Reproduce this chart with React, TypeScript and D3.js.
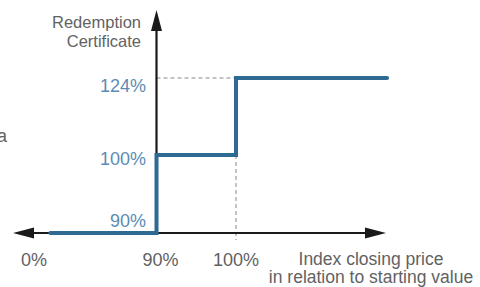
import React from 'react';
import * as d3 from 'd3';

// payoff profile: index closing price (% of start) -> redemption (%)
const payoffX = [12, 90, 90, 100, 100, 119];
const payoffY = [90, 90, 100, 100, 124, 124];

const xTicks = ['0%', '90%', '100%'];
const xTickValues = [0, 90, 100];
const yTicks = ['124%', '100%', '90%'];
const yTickValues = [124, 100, 90];

const yTitle = ['Redemption', 'Certificate'];
const xTitle = ['Index closing price', 'in relation to starting value'];

const W = 480;
const H = 287;

const App = () => {
  // schematic, broken axes -> piecewise scales
  const x = d3.scaleLinear().domain([0, 90, 100]).range([34, 156.5, 236]);
  const y = d3.scaleLinear().domain([90, 100, 124]).range([233, 155, 78]);

  const axisX = x(90);
  const axisY = y(90);
  const blue = '#2f6a93';
  const labelBlue = '#5a8cb5';
  const grey = '#626262';
  const font = '"Liberation Sans", Arial, sans-serif';

  const line = d3.line<number>()
    .x((d, i) => x(payoffX[i]))
    .y((d, i) => y(payoffY[i]))
    .curve(d3.curveLinear);

  const labelDy: Record<number, number> = { 124: 14, 100: 10, 90: -6 };

  return (
    <svg width={W} height={H} style={{ position: 'absolute', left: 0, top: 0 }}>
      {/* stray clipped label at left edge */}
      <text x={-3} y={142} fontFamily={font} fontSize={18} fill={grey}>a</text>

      {/* dashed guides */}
      <line x1={axisX} x2={x(100)} y1={y(124)} y2={y(124)} stroke="#888" strokeWidth={1} strokeDasharray="4 3" />
      <line x1={x(100)} x2={x(100)} y1={y(100)} y2={axisY + 7} stroke="#888" strokeWidth={1} strokeDasharray="4 3" />

      {/* axes */}
      <line x1={33} x2={366} y1={axisY} y2={axisY} stroke="#1a1a1a" strokeWidth={2.2} />
      <path d={`M13,${axisY} L34,${axisY - 5.5} L34,${axisY + 5.5} Z`} fill="#1a1a1a" />
      <path d={`M386,${axisY} L365,${axisY - 5.5} L365,${axisY + 5.5} Z`} fill="#1a1a1a" />
      <line x1={axisX} x2={axisX} y1={axisY} y2={30} stroke="#1a1a1a" strokeWidth={2.2} />
      <path d={`M${axisX},10 L${axisX - 5.5},31 L${axisX + 5.5},31 Z`} fill="#1a1a1a" />

      {/* payoff line */}
      <path d={line(payoffX) || ''} fill="none" stroke={blue} strokeWidth={4} strokeLinejoin="miter" strokeLinecap="round" />

      {/* y tick labels */}
      {yTickValues.map((v, i) => (
        <text key={v} x={146} y={y(v) + labelDy[v]} textAnchor="end" fontFamily={font} fontSize={18} fill={labelBlue}>
          {yTicks[i]}
        </text>
      ))}

      {/* x tick labels */}
      {xTickValues.map((v, i) => (
        <text key={v} x={x(v) + (v === 90 ? 4 : 0)} y={266} textAnchor="middle" fontFamily={font} fontSize={18} fill={grey}>
          {xTicks[i]}
        </text>
      ))}

      {/* axis titles */}
      {yTitle.map((t, i) => (
        <text key={t} x={141} y={28 + i * 19} textAnchor="end" fontFamily={font} fontSize={16.5} fill={grey}>{t}</text>
      ))}
      {xTitle.map((t, i) => (
        <text key={t} x={371} y={265 + i * 18} textAnchor="middle" fontFamily={font} fontSize={17.5} fill={grey}>{t}</text>
      ))}
    </svg>
  );
};

export default App;
